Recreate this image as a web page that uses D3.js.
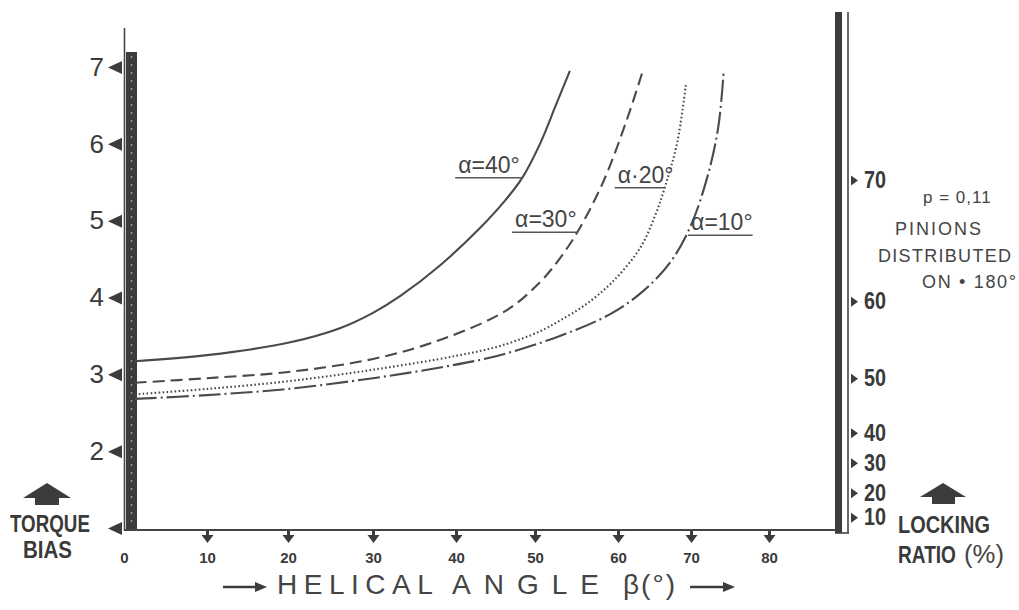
<!DOCTYPE html>
<meta charset="utf-8">
<style>
    body { margin: 0; background: #fff; }
    svg { display: block; }
    .curve { fill: none; stroke: #4a4a4a; stroke-width: 2.1px; }
    .ink { fill: #3c3c3c; }
    .lbl { font-family: "Liberation Sans", Arial, sans-serif; fill: #444; }
    .narrow { font-family: "Liberation Sans", Arial, sans-serif; font-weight: bold; fill: #3a3a3a; }
</style>
<svg width="1019" height="610"></svg>
<script src="https://d3js.org/d3.v7.min.js"></script>
<script>

    // helical angle ticks (deg) and torque bias ticks
    var betaTicks = [0, 10, 20, 30, 40, 50, 60, 70, 80];
    var torqueTicks = [1, 2, 3, 4, 5, 6, 7];

    // locking ratio (%) and the torque bias each one sits at
    var lockingTicks = [10, 20, 30, 40, 50, 60, 70];
    var lockingTorque = [1.14, 1.46, 1.85, 2.24, 2.95, 3.95, 5.53];

    // curves: [beta, torque bias]
    var alpha40 = [[1.3, 3.17], [10, 3.25], [20, 3.41], [26.1, 3.60], [30, 3.80], [33.3, 4.02], [38.1, 4.42],
        [43, 4.90], [46.2, 5.26], [48.4, 5.56], [50.6, 6.00], [52.5, 6.50], [54.2, 6.95]];
    var alpha30 = [[1.3, 2.89], [10, 2.95], [20, 3.03], [30, 3.20], [38.4, 3.46], [46.5, 3.84], [50.6, 4.20],
        [53, 4.51], [55.1, 4.85], [58.2, 5.50], [61.2, 6.31], [63.3, 6.92]];
    var alpha20 = [[1.3, 2.74], [10, 2.81], [20, 2.91], [30, 3.06], [40, 3.24], [45.6, 3.37], [50.6, 3.56],
        [53, 3.70], [56, 3.90], [59.3, 4.20], [63, 4.64], [65.1, 5.07], [66.4, 5.43], [68.1, 6.01], [69.3, 6.77]];
    var alpha10 = [[1.3, 2.68], [10, 2.73], [20, 2.81], [30, 2.95], [38.1, 3.09], [45.2, 3.24], [53, 3.50],
        [59, 3.78], [63.4, 4.08], [67.1, 4.45], [69.9, 4.92], [72.1, 5.57], [73.5, 6.22], [74.2, 6.96]];

    // label leaders: text, beta from/to, torque level
    var curveLabels = [
        {text: "α=40°", from: 39.9, to: 48.5, t: 5.56},
        {text: "α=30°", from: 47.1, to: 55.1, t: 4.85},
        {text: "α·20°", from: 59.6, to: 66.4, t: 5.43},
        {text: "α=10°", from: 69.6, to: 77.9, t: 4.81}
    ];

    var series = [
        {id: "a40", values: alpha40, dash: null},
        {id: "a30", values: alpha30, dash: "12,6"},
        {id: "a20", values: alpha20, dash: "1.6,2.4"},
        {id: "a10", values: alpha10, dash: "22,4,2,4"}
    ];

    var svg = d3.select("svg");
    svg.append("rect").attr("width", 1019).attr("height", 610).attr("fill", "#fff");

    // hand drawn axis: tick spacing is not quite even
    var xTickPx = [124, 207, 288, 373, 456, 535, 618, 691, 769];
    var x = d3.scaleLinear().domain(betaTicks).range(xTickPx),
        y = d3.scaleLinear().domain([1, 7]).range([528, 67]),
        yLock = d3.scaleLinear().domain(lockingTicks).range(lockingTorque.map(y));

    // left frame: thin line + thick bar
    svg.append("line").attr("x1", 124.5).attr("x2", 124.5).attr("y1", 28).attr("y2", 531)
        .attr("stroke", "#444").attr("stroke-width", 1.6);
    svg.append("rect").attr("class", "ink").attr("x", 126).attr("y", 52).attr("width", 11).attr("height", 479);
    svg.append("line").attr("x1", 131.5).attr("x2", 131.5).attr("y1", 56).attr("y2", 528)
        .attr("stroke", "#9c9c9c").attr("stroke-width", 1.4).attr("stroke-dasharray", "2,6");

    // right frame: thick bar + thin line
    svg.append("rect").attr("class", "ink").attr("x", 835).attr("y", 12).attr("width", 7).attr("height", 521);
    svg.append("line").attr("x1", 848).attr("x2", 848).attr("y1", 12).attr("y2", 533)
        .attr("stroke", "#444").attr("stroke-width", 1.6);
    svg.append("line").attr("x1", 835).attr("x2", 849).attr("y1", 533).attr("y2", 533)
        .attr("stroke", "#444").attr("stroke-width", 1.6);

    // baseline
    svg.append("line").attr("x1", 124).attr("x2", 836).attr("y1", 530).attr("y2", 530)
        .attr("stroke", "#444").attr("stroke-width", 2);

    // left axis
    var gy = svg.append("g").attr("transform", "translate(123,0)")
        .call(d3.axisLeft(y).tickValues(torqueTicks).tickSize(0).tickPadding(19)
            .tickFormat(function (d) { return d === 1 ? "" : d; }));
    gy.select(".domain").remove();
    gy.selectAll(".tick text")
        .attr("font-size", 26).attr("font-family", "Liberation Sans, Arial, sans-serif").attr("fill", "#3a3a3a");
    gy.selectAll(".tick").append("path").attr("class", "ink").attr("d", "M-1,-6.5L-1,6.5L-15,0Z");

    // bottom axis
    var gx = svg.append("g").attr("transform", "translate(0,530)")
        .call(d3.axisBottom(x).tickValues(betaTicks).tickSize(0).tickPadding(22));
    gx.select(".domain").remove();
    gx.selectAll(".tick text")
        .attr("font-size", 15).attr("font-weight", "bold")
        .attr("font-family", "Liberation Sans, Arial, sans-serif").attr("fill", "#3a3a3a");
    gx.selectAll(".tick").filter(function (d) { return d > 0; })
        .append("path").attr("class", "ink").attr("d", "M-1.5,1L1.5,1L1.5,5L6,5L0,13L-6,5L-1.5,5Z");

    // right axis (locking ratio)
    var gr = svg.append("g").attr("transform", "translate(849,0)")
        .call(d3.axisRight(yLock).tickValues(lockingTicks).tickSize(0).tickPadding(15));
    gr.select(".domain").remove();
    gr.selectAll(".tick text")
        .attr("font-size", 23).attr("font-weight", "bold")
        .attr("font-family", "Liberation Sans, Arial, sans-serif").attr("fill", "#3a3a3a")
        .attr("textLength", 22).attr("lengthAdjust", "spacingAndGlyphs");
    gr.selectAll(".tick").append("path").attr("class", "ink").attr("d", "M2,-5L2,5L9,0Z");

    // curves
    var line = d3.line()
        .curve(d3.curveCatmullRom.alpha(0.5))
        .x(function (d) { return x(d[0]); })
        .y(function (d) { return y(d[1]); });

    svg.selectAll(".curve")
        .data(series)
        .enter().append("path")
        .attr("class", "curve")
        .attr("d", function (d) { return line(d.values); })
        .attr("stroke-dasharray", function (d) { return d.dash; });

    // curve labels with underline leaders
    var lab = svg.selectAll(".clab").data(curveLabels).enter().append("g").attr("class", "clab");
    lab.append("line")
        .attr("x1", function (d) { return x(d.from); })
        .attr("x2", function (d) { return x(d.to); })
        .attr("y1", function (d) { return y(d.t); })
        .attr("y2", function (d) { return y(d.t); })
        .attr("stroke", "#555").attr("stroke-width", 1.5);
    lab.append("text")
        .attr("class", "lbl")
        .attr("x", function (d) { return x(d.from) + 3; })
        .attr("y", function (d) { return y(d.t) - 5; })
        .attr("font-size", 23)
        .text(function (d) { return d.text; });

    // side notes
    var notes = svg.append("g").attr("class", "lbl").attr("font-size", 18).attr("letter-spacing", 1);
    notes.append("text").attr("x", 923).attr("y", 203).attr("font-size", 17).text("p = 0,11");
    notes.append("text").attr("x", 895).attr("y", 235).attr("textLength", 87).text("PINIONS");
    notes.append("text").attr("x", 878).attr("y", 262).attr("textLength", 134).text("DISTRIBUTED");
    notes.append("text").attr("x", 922).attr("y", 288).attr("textLength", 95).text("ON • 180°");

    // block arrows and axis names
    svg.append("path").attr("class", "ink").attr("d", "M47,483L71,498L59,498L59,505L35,505L35,498L23,498Z");
    svg.append("path").attr("class", "ink").attr("d", "M943,483L966,497L955,497L955,504L932,504L932,497L920,497Z");

    // condensed bold text: squeeze horizontally to the wanted width
    function narrowText(tx, ty, len, s, cls, size) {
        var t = svg.append("text").attr("class", cls || "narrow")
            .attr("font-size", size || 24).attr("fill", "#3a3a3a").text(s);
        var w = t.node().getComputedTextLength();
        t.attr("transform", "translate(" + tx + "," + ty + ") scale(" + (len / w) + ",1)");
        return t;
    }
    narrowText(10, 532, 80, "TORQUE");
    narrowText(23, 558, 49, "BIAS");
    narrowText(898, 533, 92, "LOCKING");
    narrowText(898, 563, 58, "RATIO");
    narrowText(964, 563, 40, "(%)", "lbl", 25);

    // x axis title with arrows
    function arrow(x0, x1, yy) {
        svg.append("line").attr("x1", x0).attr("x2", x1 - 8).attr("y1", yy).attr("y2", yy)
            .attr("stroke", "#3c3c3c").attr("stroke-width", 2.5);
        svg.append("path").attr("class", "ink")
            .attr("d", "M" + (x1 - 12) + "," + (yy - 5) + "L" + x1 + "," + yy + "L" + (x1 - 12) + "," + (yy + 5) + "Z");
    }
    arrow(223, 267, 587);
    arrow(690, 735, 587);
    var title = [["HELICAL", 277, 6.5], ["ANGLE", 452, 13], ["β(°)", 623, 2]];
    title.forEach(function (t) {
        svg.append("text").attr("class", "lbl").attr("x", t[1]).attr("y", 594).attr("font-size", 28)
            .attr("fill", "#3a3a3a").attr("letter-spacing", t[2]).text(t[0]);
    });

</script>
